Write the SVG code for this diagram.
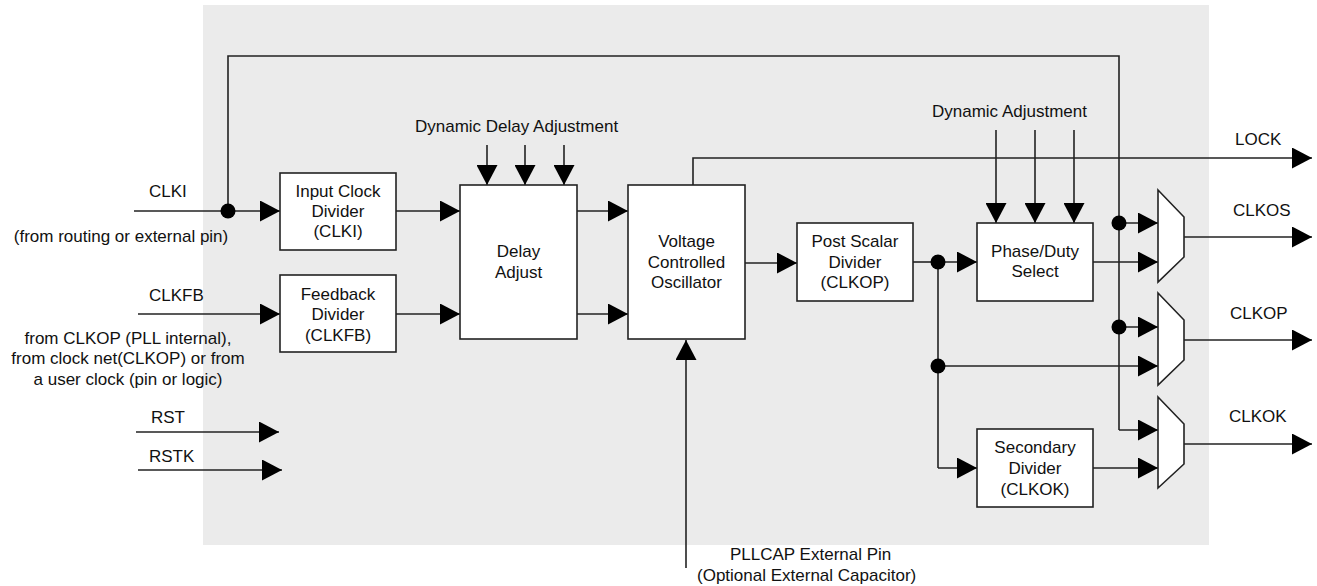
<svg xmlns="http://www.w3.org/2000/svg" width="1317" height="586" viewBox="0 0 1317 586">
<defs>
<marker id="ah" markerUnits="userSpaceOnUse" markerWidth="20" markerHeight="21" refX="20" refY="10.5" orient="auto" viewBox="0 0 20 21">
<path d="M0,0 L20,10.5 L0,21 Z" fill="#000"/>
</marker>
</defs>
<style>
text{font-family:"Liberation Sans",Arial,Helvetica,sans-serif;font-size:17px;fill:#111}
.c{text-anchor:middle}
.box{fill:#fff;stroke:#222;stroke-width:1.6}
.w{fill:none;stroke:#222;stroke-width:1.6}
.a{fill:none;stroke:#222;stroke-width:1.6;marker-end:url(#ah)}
.dot{fill:#000}
</style>
<rect x="203" y="5" width="1006" height="540" fill="#ebebeb"/>

<g id="connectors">
<path class="w" d="M228,211 V56 H1119 V430"/>
<path class="a" d="M1119,430 H1158"/>
<path class="w" d="M134,211 H228"/>
<path class="a" d="M228,211 H280"/>
<path class="a" d="M138,314 H280"/>
<path class="a" d="M136,432 H279"/>
<path class="a" d="M138,470 H282"/>
<path class="a" d="M396,211 H460"/>
<path class="a" d="M396,314 H460"/>
<path class="a" d="M487,145 V185"/>
<path class="a" d="M525,145 V185"/>
<path class="a" d="M564,145 V185"/>
<path class="a" d="M577,211 H628"/>
<path class="a" d="M577,314 H628"/>
<path class="a" d="M693,185 V158 H1312"/>
<path class="a" d="M686,568 V340"/>
<path class="a" d="M745,263 H797"/>
<path class="w" d="M913,262 H938"/>
<path class="a" d="M938,262 H977"/>
<path class="w" d="M938,262 V468"/>
<path class="a" d="M938,468 H977"/>
<path class="a" d="M938,366 H1158"/>
<path class="a" d="M996,130 V223"/>
<path class="a" d="M1035,130 V223"/>
<path class="a" d="M1074,130 V223"/>
<path class="a" d="M1093,262 H1158"/>
<path class="a" d="M1119,223 H1158"/>
<path class="a" d="M1119,327 H1158"/>
<path class="a" d="M1093,468 H1158"/>
<path class="a" d="M1184,237 H1312"/>
<path class="a" d="M1184,340 H1312"/>
<path class="a" d="M1184,444 H1312"/>
<circle class="dot" cx="228" cy="211" r="7.5"/>
<circle class="dot" cx="938" cy="262" r="7.5"/>
<circle class="dot" cx="938" cy="366" r="7.5"/>
<circle class="dot" cx="1119" cy="223" r="7.5"/>
<circle class="dot" cx="1119" cy="327" r="7.5"/>
</g>

<g id="input-clock-divider">
<rect class="box" x="280" y="173" width="116" height="77"/>
<text class="c" x="338" y="197">Input Clock</text>
<text class="c" x="338" y="217">Divider</text>
<text class="c" x="338" y="237">(CLKI)</text>
</g>
<g id="feedback-divider">
<rect class="box" x="280" y="275" width="116" height="77"/>
<text class="c" x="338" y="300">Feedback</text>
<text class="c" x="338" y="320">Divider</text>
<text class="c" x="338" y="341">(CLKFB)</text>
</g>
<g id="delay-adjust">
<rect class="box" x="460" y="185" width="117" height="154"/>
<text class="c" x="518.5" y="257">Delay</text>
<text class="c" x="518.5" y="278">Adjust</text>
</g>
<g id="vco">
<rect class="box" x="628" y="185" width="117" height="154"/>
<text class="c" x="686.5" y="247">Voltage</text>
<text class="c" x="686.5" y="268">Controlled</text>
<text class="c" x="686.5" y="288">Oscillator</text>
</g>
<g id="post-scalar-divider">
<rect class="box" x="797" y="223" width="116" height="78"/>
<text class="c" x="855" y="247">Post Scalar</text>
<text class="c" x="855" y="268">Divider</text>
<text class="c" x="855" y="288">(CLKOP)</text>
</g>
<g id="phase-duty-select">
<rect class="box" x="977" y="223" width="116" height="78"/>
<text class="c" x="1035" y="257">Phase/Duty</text>
<text class="c" x="1035" y="277">Select</text>
</g>
<g id="secondary-divider">
<rect class="box" x="977" y="429" width="116" height="78"/>
<text class="c" x="1035" y="453">Secondary</text>
<text class="c" x="1035" y="474">Divider</text>
<text class="c" x="1035" y="495">(CLKOK)</text>
</g>
<g id="mux-clkos">
<polygon class="box" points="1158,190 1184,217 1184,257 1158,282"/>
</g>
<g id="mux-clkop">
<polygon class="box" points="1158,293 1184,320 1184,360 1158,385"/>
</g>
<g id="mux-clkok">
<polygon class="box" points="1158,397 1184,424 1184,464 1158,488"/>
</g>

<g id="labels">
<text x="149" y="197">CLKI</text>
<text class="c" x="121" y="242">(from routing or external pin)</text>
<text x="149" y="301">CLKFB</text>
<text class="c" x="128" y="344">from CLKOP (PLL internal),</text>
<text class="c" x="128" y="364">from clock net(CLKOP) or from</text>
<text class="c" x="128" y="385">a user clock (pin or logic)</text>
<text x="151" y="423">RST</text>
<text x="149" y="462">RSTK</text>
<text x="415" y="132">Dynamic Delay Adjustment</text>
<text x="932" y="117">Dynamic Adjustment</text>
<text x="1235" y="145">LOCK</text>
<text x="1233" y="216">CLKOS</text>
<text x="1230" y="319">CLKOP</text>
<text x="1229" y="422">CLKOK</text>
<text x="730" y="560">PLLCAP External Pin</text>
<text x="697" y="581">(Optional External Capacitor)</text>
</g>
</svg>
